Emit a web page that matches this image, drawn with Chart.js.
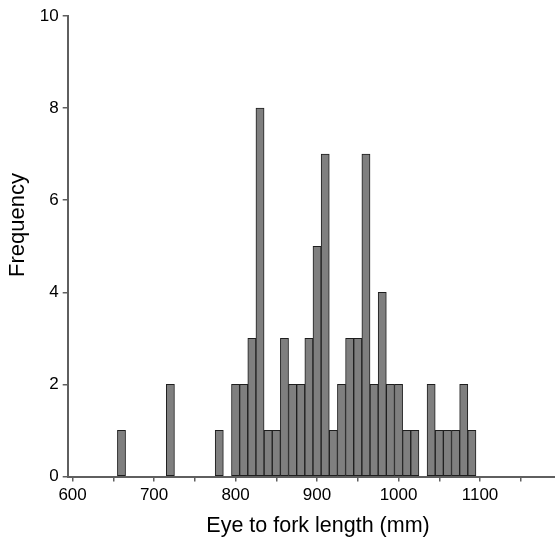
<!DOCTYPE html>
<html>
<head>
<meta charset="utf-8">
<script src="https://cdn.jsdelivr.net/npm/chart.js@4"></script>
<style>
html,body{margin:0;padding:0;background:#fff;}
#wrap{width:555px;height:539px;position:relative;}
</style>
</head>
<body>
<div id="wrap"><canvas id="c" width="555" height="539"></canvas></div>
<script>
// Bin centres (mm) and counts
const binCenters = [660, 720, 780, 800, 810, 820, 830, 840, 850, 860, 870, 880, 890, 900, 910, 920, 930, 940, 950, 960, 970, 980, 990, 1000, 1010, 1020, 1040, 1050, 1060, 1070, 1080, 1090];
const frequencies = [1, 2, 1, 2, 2, 3, 8, 1, 1, 3, 2, 2, 3, 5, 7, 1, 2, 3, 3, 7, 2, 4, 2, 2, 1, 1, 2, 1, 1, 1, 2, 1];
const xTickValues = [600, 650, 700, 750, 800, 850, 900, 950, 1000, 1050, 1100, 1150];
const xTickLabels = ['600', '', '700', '', '800', '', '900', '', '1000', '', '1100', ''];
const yTickValues = [0, 2, 4, 6, 8, 10];
const xTitle = 'Eye to fork length (mm)';
const yTitle = 'Frequency';

const axisColor = '#5f5f5f';
const fontFamily = '"Liberation Sans", Arial, sans-serif';

// Axis titles placed as in the reference (the y title sits slightly above the axis middle)
const axisTitles = {
  id: 'axisTitles',
  afterDraw(chart) {
    const ctx = chart.ctx;
    ctx.save();
    ctx.fillStyle = '#000';
    ctx.font = '21.5px ' + fontFamily;
    ctx.textAlign = 'center';
    ctx.textBaseline = 'alphabetic';
    ctx.fillText(xTitle, 318, 532);
    ctx.font = '22px ' + fontFamily;
    ctx.translate(24, 225);
    ctx.rotate(-Math.PI / 2);
    ctx.fillText(yTitle, 0, 0);
    ctx.restore();
  }
};

new Chart(document.getElementById('c'), {
  type: 'bar',
  data: {
    datasets: [{
      data: binCenters.map((x, i) => ({x: x, y: frequencies[i]})),
      backgroundColor: '#7f7f7f',
      borderColor: '#1e1e1e',
      borderWidth: 1,
      borderSkipped: false,
      barPercentage: 1,
      categoryPercentage: 1
    }]
  },
  plugins: [axisTitles],
  options: {
    responsive: false,
    animation: false,
    devicePixelRatio: 1,
    layout: {padding: {top: 16, right: 0, bottom: 0, left: 0}},
    plugins: {legend: {display: false}, tooltip: {enabled: false}},
    scales: {
      x: {
        type: 'linear',
        offset: false,
        min: 594,
        max: 1192,
        afterBuildTicks: s => { s.ticks = xTickValues.map(v => ({value: v})); },
        afterFit: s => { s.height = 62.5; },
        ticks: {
          autoSkip: false,
          maxRotation: 0,
          padding: 4,
          color: '#000',
          font: {family: fontFamily, size: 17},
          callback: (v) => { const i = xTickValues.indexOf(v); return i >= 0 ? xTickLabels[i] : ''; }
        },
        grid: {offset: false, drawOnChartArea: false, drawTicks: true, tickLength: 5, color: axisColor, lineWidth: 1.5},
        border: {display: true, color: axisColor, width: 2},
        title: {display: false}
      },
      y: {
        type: 'linear',
        min: 0,
        max: 10,
        afterBuildTicks: s => { s.ticks = yTickValues.map(v => ({value: v})); },
        afterFit: s => { s.width = 67.7; },
        ticks: {
          padding: 4,
          color: '#000',
          font: {family: fontFamily, size: 17}
        },
        grid: {drawOnChartArea: false, drawTicks: true, tickLength: 5, color: axisColor, lineWidth: 1.5},
        border: {display: true, color: axisColor, width: 2},
        title: {display: false}
      }
    }
  }
});
</script>
</body>
</html>
